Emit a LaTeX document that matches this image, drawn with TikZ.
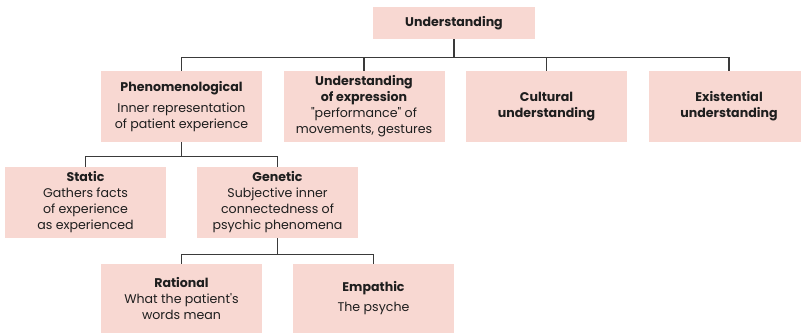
\documentclass[tikz,border=0pt]{standalone}
\usepackage{fontspec}
\setmainfont{Poppins}
\definecolor{boxfill}{HTML}{F8D8D2}
\definecolor{linec}{HTML}{3A3A3A}
\definecolor{txt}{HTML}{1E1E1E}
\begin{document}
\begin{tikzpicture}[x=1pt,y=-1pt,
  box/.style={fill=boxfill,draw=none,minimum width=161pt,minimum height=71pt,inner sep=2pt,align=center,text=txt,font=\fontsize{12.6}{16}\selectfont},
  conn/.style={draw=linec,line width=1.4pt}]
\useasboundingbox (0,0) rectangle (801,335);
\node[box,minimum width=162pt,minimum height=32pt] (U) at (454,23) {\textbf{Understanding}};
\node[box] (P) at (181.5,106.5) {\textbf{Phenomenological}\\[5pt]Inner representation\\of patient experience};
\node[box] (E) at (364,106.5) {\textbf{Understanding}\\\textbf{of expression}\\\textquotedbl performance\textquotedbl{} of\\movements, gestures};
\node[box] (C) at (546.5,106.5) {\textbf{Cultural}\\\textbf{understanding}};
\node[box] (X) at (729,106.5) {\textbf{Existential}\\\textbf{understanding}};
\node[box] (S) at (85.5,202.5) {\textbf{Static}\\Gathers facts\\of experience\\as experienced};
\node[box] (G) at (277.5,202.5) {\textbf{Genetic}\\Subjective inner\\connectedness of\\psychic phenomena};
\node[box,minimum height=69pt] (R) at (181.5,298.5) {\textbf{Rational}\\What the patient\textquotesingle s\\words mean};
\node[box,minimum height=69pt] (M) at (373.5,298.5) {\textbf{Empathic}\\[4pt]The psyche};
\foreach \c in {P,E,C,X} \draw[conn] (U.south) -- ++(0,18) -| (\c.north);
\foreach \c in {S,G} \draw[conn] (P.south) -- ++(0,14) -| (\c.north);
\foreach \c in {R,M} \draw[conn] (G.south) -- ++(0,16) -| (\c.north);
\end{tikzpicture}
\end{document}
